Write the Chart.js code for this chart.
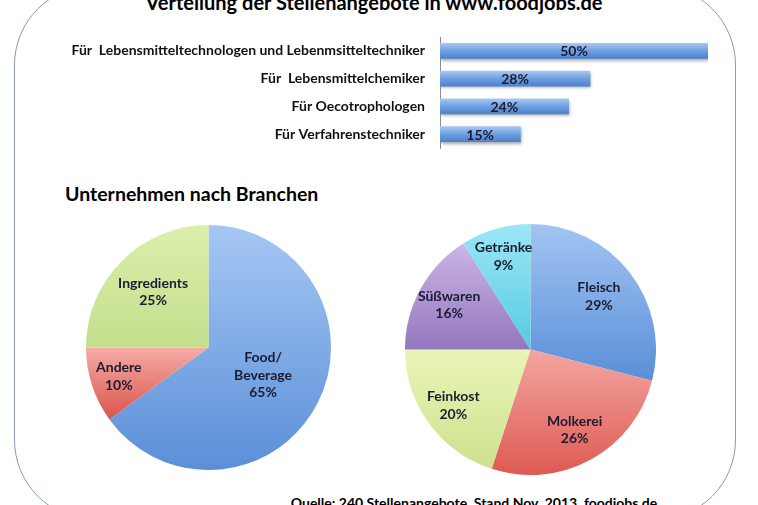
<!DOCTYPE html>
<html>
<head>
<meta charset="utf-8">
<script src="https://cdn.jsdelivr.net/npm/chart.js@4.4.1/dist/chart.umd.min.js"></script>
<style>
  body { margin: 0; width: 758px; height: 505px; overflow: hidden; background: #fff; position: relative; font-family: Lato, "Open Sans", sans-serif; color: #000; }
  .frame { position: absolute; box-sizing: border-box; left: 14px; top: -15px; width: 722px; height: 535px; border: 1.5px solid #8a99b6; border-radius: 80px; }
  .txt { position: absolute; font-weight: 700; line-height: 1; white-space: nowrap; }
  #title { left: 0; width: 748px; text-align: center; top: -8px; font-size: 20px; }
  #heading { left: 65px; top: 184px; font-size: 19.5px; }
  #source { left: 0; width: 948px; text-align: center; top: 496px; font-size: 14px; }
  canvas { position: absolute; }
  #bars { left: 0; top: 0; }
  #pie1 { left: 86px; top: 225px; }
  #pie2 { left: 405px; top: 224px; }
</style>
</head>
<body>
<div class="frame"></div>
<div class="txt" id="title">Verteilung der Stellenangebote in www.foodjobs.de</div>
<div class="txt" id="heading">Unternehmen nach Branchen</div>
<div class="txt" id="source">Quelle: 240 Stellenangebote, Stand Nov. 2013, foodjobs.de</div>
<canvas id="bars" width="758" height="160"></canvas>
<canvas id="pie1" width="245" height="245"></canvas>
<canvas id="pie2" width="251" height="251"></canvas>
<script>
// job offers by profession (percent)
const jobLabels = [
  "Für  Lebensmitteltechnologen und Lebenmsitteltechniker",
  "Für  Lebensmittelchemiker",
  "Für Oecotrophologen",
  "Für Verfahrenstechniker",
];
const jobValues = [50, 28, 24, 15];

// companies by sector (percent)
const sectorLabels = [["Food/", "Beverage"], "Andere", "Ingredients"];
const sectorValues = [65, 10, 25];

// food sector split (percent)
const foodLabels = ["Fleisch", "Molkerei", "Feinkost", "Süßwaren", "Getränke"];
const foodValues = [29, 26, 20, 16, 9];

const FONT = "Lato, 'Open Sans', sans-serif";
const TEXT_DARK = "#1b1b33";

// light / dark gradient stops per slice
const sectorColors = [["#a6c7f3", "#5a8fd8"], ["#f6aba6", "#d9544d"], ["#dcefab", "#c3de8c"]];
const foodColors = [
  ["#a2c4f2", "#5a8fd8"],
  ["#f4a6a1", "#de5a53"],
  ["#e9f5b6", "#cde28f"],
  ["#cbb6e4", "#9376bf"],
  ["#9be7f5", "#57cae4"],
];

function barGradient(ctx) {
  const chart = ctx.chart;
  if (!chart.chartArea || ctx.dataIndex === undefined) return "#6a9de0";
  const y = chart.scales.y.getPixelForValue(ctx.dataIndex);
  const g = chart.ctx.createLinearGradient(0, y - 7.5, 0, y + 7.5);
  g.addColorStop(0, "#a8c7f1");
  g.addColorStop(0.5, "#6d9fe1");
  g.addColorStop(1, "#4d82cd");
  return g;
}

// gradient over the vertical extent of one slice
function sliceGradient(colors) {
  return (ctx) => {
    const chart = ctx.chart;
    const area = chart.chartArea;
    const pair = colors[ctx.dataIndex] || colors[0];
    if (!area || ctx.dataIndex === undefined) return pair[0];
    const data = ctx.dataset.data;
    const total = data.reduce((a, b) => a + b, 0);
    let before = 0;
    for (let i = 0; i < ctx.dataIndex; i++) before += data[i];
    const a0 = -Math.PI / 2 + (before / total) * Math.PI * 2;
    const a1 = a0 + (data[ctx.dataIndex] / total) * Math.PI * 2;
    const cx = (area.left + area.right) / 2;
    const cy = (area.top + area.bottom) / 2;
    const r = Math.min(area.width, area.height) / 2;
    const ys = [cy, cy + r * Math.sin(a0), cy + r * Math.sin(a1)];
    [Math.PI / 2, Math.PI * 1.5, -Math.PI / 2].forEach((a) => {
      if (a > a0 && a < a1) ys.push(cy + r * Math.sin(a));
    });
    const g = chart.ctx.createLinearGradient(0, Math.min(...ys), 0, Math.max(...ys));
    g.addColorStop(0, pair[0]);
    g.addColorStop(1, pair[1]);
    return g;
  };
}

const barShadow = {
  id: "barShadow",
  beforeDatasetsDraw(chart) {
    const c = chart.ctx;
    c.save();
    c.shadowColor = "rgba(0,0,0,0.35)";
    c.shadowBlur = 3;
    c.shadowOffsetY = 2;
    c.shadowOffsetX = 1;
  },
  afterDatasetsDraw(chart) {
    chart.ctx.restore();
  },
};

const barValues = {
  id: "barValues",
  afterDatasetsDraw(chart) {
    const c = chart.ctx;
    const meta = chart.getDatasetMeta(0);
    c.save();
    c.font = "bold 14px " + FONT;
    c.fillStyle = TEXT_DARK;
    c.textAlign = "center";
    c.textBaseline = "middle";
    meta.data.forEach((bar, i) => {
      c.fillText(jobValues[i] + "%", (bar.base + bar.x) / 2, bar.y + 1);
    });
    c.restore();
  },
};

const sliceLabels = {
  id: "sliceLabels",
  afterDatasetsDraw(chart, args, opts) {
    const c = chart.ctx;
    const meta = chart.getDatasetMeta(0);
    const labels = chart.data.labels;
    const values = chart.data.datasets[0].data;
    c.save();
    c.font = "bold 14px " + FONT;
    c.fillStyle = TEXT_DARK;
    c.textAlign = "center";
    c.textBaseline = "middle";
    meta.data.forEach((arc, i) => {
      const p = arc.getProps(["x", "y", "startAngle", "endAngle", "outerRadius"], true);
      const mid = (p.startAngle + p.endAngle) / 2;
      const r = p.outerRadius * opts.radii[i];
      const lines = [].concat(labels[i], values[i] + "%");
      const x = p.x + r * Math.cos(mid);
      const y0 = p.y + r * Math.sin(mid) - ((lines.length - 1) * 17.5) / 2;
      lines.forEach((t, k) => c.fillText(t, x, y0 + k * 17.5));
    });
    c.restore();
  },
};

function drawBars() {
  new Chart(document.getElementById("bars"), {
    type: "bar",
    data: {
      labels: jobLabels,
      datasets: [{ data: jobValues, backgroundColor: barGradient, barThickness: 15, borderWidth: 0 }],
    },
    options: {
      indexAxis: "y",
      responsive: false,
      animation: false,
      layout: { padding: { top: 37, bottom: 12, right: 50 } },
      plugins: { legend: { display: false }, tooltip: { enabled: false } },
      scales: {
        x: { display: false, min: 0, max: 50 },
        y: {
          grid: { display: false },
          border: { display: true, color: "#8c8c8c", width: 1 },
          ticks: { color: "#111", padding: 7, font: { family: FONT, size: 14, weight: "bold" } },
          afterFit(scale) {
            scale.width = 440;
            scale.paddingTop = 0;
            scale.paddingBottom = 0;
          },
        },
      },
    },
    plugins: [barShadow, barValues],
  });
}

function drawPie(id, labels, values, colors, radii) {
  new Chart(document.getElementById(id), {
    type: "pie",
    data: {
      labels: labels,
      datasets: [{ data: values, backgroundColor: sliceGradient(colors), borderWidth: 0 }],
    },
    options: {
      responsive: false,
      animation: false,
      layout: { padding: 0 },
      plugins: {
        legend: { display: false },
        tooltip: { enabled: false },
        sliceLabels: { radii: radii },
      },
    },
    plugins: [sliceLabels],
  });
}

window.addEventListener("load", () => {
  drawBars();
  drawPie("pie1", sectorLabels, sectorValues, sectorColors, [0.5, 0.77, 0.64]);
  drawPie("pie2", foodLabels, foodValues, foodColors, [0.69, 0.73, 0.76, 0.74, 0.77]);
});
</script>
</body>
</html>
